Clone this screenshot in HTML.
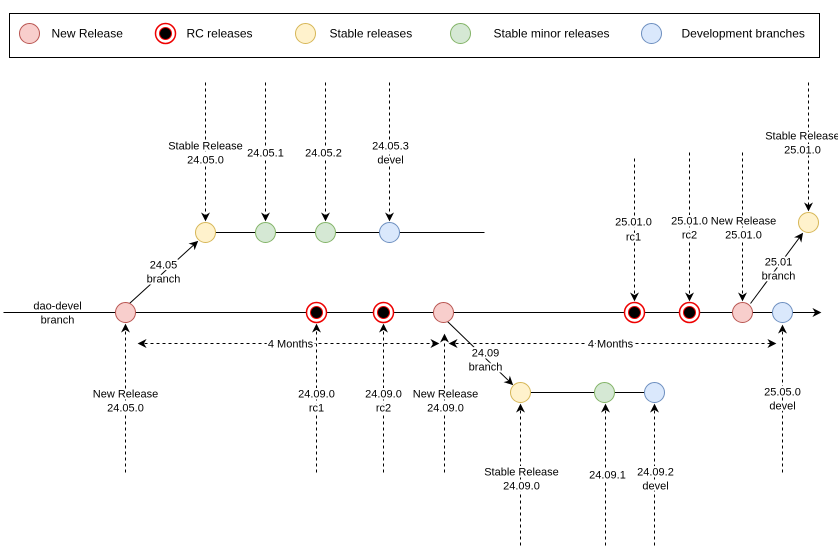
<!DOCTYPE html>
<html><head><meta charset="utf-8"><style>
html,body{margin:0;padding:0;background:#fff;}
svg{display:block;}
text{font-family:"Liberation Sans",Arial,sans-serif;font-size:11px;fill:#000;text-anchor:middle;}
.lg{font-size:12px;text-anchor:start;}
.bg{paint-order:stroke;stroke:#fff;stroke-width:4px;stroke-linejoin:round;}
.d{stroke:#000;stroke-width:1;stroke-dasharray:3,3;fill:none;}
.s{stroke:#000;stroke-width:1;fill:none;}
.nr{fill:#f8cecc;stroke:#b85450;}
.st{fill:#fff2cc;stroke:#d6b656;}
.mi{fill:#d5e8d4;stroke:#82b366;}
.dv{fill:#dae8fc;stroke:#6c8ebf;}
</style></head><body>
<svg width="838" height="548" viewBox="0 0 838 548" xmlns="http://www.w3.org/2000/svg">
<defs>
<marker id="a" viewBox="0 0 10 10" refX="9" refY="5" markerWidth="9" markerHeight="9" markerUnits="userSpaceOnUse" orient="auto-start-reverse">
<path d="M0,0 L10,5 L0,10 L3,5 z" fill="#000"/></marker>
</defs>
<g transform="translate(0.5,0.5)">
<!-- legend -->
<rect x="9" y="13" width="810" height="44" fill="#fff" stroke="#000" stroke-width="1"/>
<circle cx="29" cy="33" r="10" class="nr"/><text class="lg" x="51" y="37">New Release</text>
<circle cx="165" cy="33" r="10" fill="#fff" stroke="#e00" stroke-width="1.5"/><circle cx="165" cy="33" r="6" fill="#000" stroke="#e00" stroke-width="1"/>
<text class="lg" x="186" y="37">RC releases</text>
<circle cx="305" cy="33" r="10" class="st"/><text class="lg" x="329" y="37">Stable releases</text>
<circle cx="460" cy="33" r="10" class="mi"/><text class="lg" x="493" y="37">Stable minor releases</text>
<circle cx="651" cy="33" r="10" class="dv"/><text class="lg" x="681" y="37">Development branches</text>

<!-- main line -->
<line x1="3" y1="312" x2="820" y2="312" class="s" marker-end="url(#a)"/>
<text class="bg" x="57" y="309">dao-devel</text><text class="bg" x="57" y="323">branch</text>

<!-- top branch -->
<line x1="205" y1="232" x2="484" y2="232" class="s"/>
<line x1="205" y1="82" x2="205" y2="220" class="d" marker-end="url(#a)"/>
<line x1="265" y1="82" x2="265" y2="220" class="d" marker-end="url(#a)"/>
<line x1="325" y1="82" x2="325" y2="220" class="d" marker-end="url(#a)"/>
<line x1="389" y1="82" x2="389" y2="220" class="d" marker-end="url(#a)"/>
<text class="bg" x="205" y="149">Stable Release</text><text class="bg" x="205" y="163">24.05.0</text>
<text class="bg" x="265" y="156">24.05.1</text>
<text class="bg" x="323" y="156">24.05.2</text>
<text class="bg" x="390" y="149">24.05.3</text><text class="bg" x="390" y="163">devel</text>
<line x1="129" y1="303" x2="197" y2="241" class="s" marker-end="url(#a)"/>
<text class="bg" x="163" y="268">24.05</text><text class="bg" x="163" y="282">branch</text>
<circle cx="205" cy="232" r="10" class="st"/>
<circle cx="265" cy="232" r="10" class="mi"/>
<circle cx="325" cy="232" r="10" class="mi"/>
<circle cx="389" cy="232" r="10" class="dv"/>

<!-- bottom arrows up -->
<line x1="125" y1="472" x2="125" y2="324" class="d" marker-end="url(#a)"/>
<line x1="316" y1="472" x2="316" y2="324" class="d" marker-end="url(#a)"/>
<line x1="383" y1="472" x2="383" y2="324" class="d" marker-end="url(#a)"/>
<line x1="444" y1="472" x2="444" y2="334" class="d" marker-end="url(#a)"/>
<line x1="782" y1="472" x2="782" y2="325" class="d" marker-end="url(#a)"/>
<line x1="138" y1="343" x2="438" y2="343" class="d" marker-start="url(#a)" marker-end="url(#a)"/>
<line x1="449" y1="343" x2="775" y2="343" class="d" marker-start="url(#a)" marker-end="url(#a)"/>
<text class="bg" x="290" y="347">4 Months</text>
<text class="bg" x="610" y="347">4 Months</text>
<text class="bg" x="125" y="397">New Release</text><text class="bg" x="125" y="411">24.05.0</text>
<text class="bg" x="316" y="397">24.09.0</text><text class="bg" x="316" y="411">rc1</text>
<text class="bg" x="383" y="397">24.09.0</text><text class="bg" x="383" y="411">rc2</text>
<text class="bg" x="445" y="397">New Release</text><text class="bg" x="445" y="411">24.09.0</text>
<text class="bg" x="782" y="395">25.05.0</text><text class="bg" x="782" y="409">devel</text>

<!-- lower branch -->
<line x1="520" y1="392" x2="654" y2="392" class="s"/>
<line x1="447" y1="321" x2="512" y2="384" class="s" marker-end="url(#a)"/>
<text class="bg" x="485" y="356">24.09</text><text class="bg" x="485" y="370">branch</text>
<line x1="520" y1="545" x2="520" y2="404" class="d" marker-end="url(#a)"/>
<line x1="605" y1="545" x2="605" y2="404" class="d" marker-end="url(#a)"/>
<line x1="654" y1="545" x2="654" y2="404" class="d" marker-end="url(#a)"/>
<text class="bg" x="521" y="475">Stable Release</text><text class="bg" x="521" y="489">24.09.0</text>
<text class="bg" x="607" y="478">24.09.1</text>
<text class="bg" x="655" y="475">24.09.2</text><text class="bg" x="655" y="489">devel</text>
<circle cx="520" cy="392" r="10" class="st"/>
<circle cx="604" cy="392" r="10" class="mi"/>
<circle cx="654" cy="392" r="10" class="dv"/>

<!-- right top -->
<line x1="634" y1="158" x2="634" y2="300" class="d" marker-end="url(#a)"/>
<line x1="689" y1="152" x2="689" y2="300" class="d" marker-end="url(#a)"/>
<line x1="742" y1="152" x2="742" y2="300" class="d" marker-end="url(#a)"/>
<line x1="808" y1="82" x2="808" y2="210" class="d" marker-end="url(#a)"/>
<text class="bg" x="633" y="225">25.01.0</text><text class="bg" x="633" y="240">rc1</text>
<text class="bg" x="689" y="224">25.01.0</text><text class="bg" x="689" y="238">rc2</text>
<text class="bg" x="743" y="224">New Release</text><text class="bg" x="743" y="238">25.01.0</text>
<text class="bg" x="802" y="139">Stable Release</text><text class="bg" x="802" y="153">25.01.0</text>
<line x1="750" y1="303" x2="802" y2="233" class="s" marker-end="url(#a)"/>
<text class="bg" x="778" y="265">25.01</text><text class="bg" x="778" y="279">branch</text>
<circle cx="808" cy="222" r="10" class="st"/>

<!-- main nodes -->
<circle cx="125" cy="312" r="10" class="nr"/>
<circle cx="316" cy="312" r="10" fill="#fff" stroke="#e00" stroke-width="1.5"/><circle cx="316" cy="312" r="6" fill="#000" stroke="#e00"/>
<circle cx="383" cy="312" r="10" fill="#fff" stroke="#e00" stroke-width="1.5"/><circle cx="383" cy="312" r="6" fill="#000" stroke="#e00"/>
<circle cx="443" cy="312" r="10" class="nr"/>
<circle cx="634" cy="312" r="10" fill="#fff" stroke="#e00" stroke-width="1.5"/><circle cx="634" cy="312" r="6" fill="#000" stroke="#e00"/>
<circle cx="689" cy="312" r="10" fill="#fff" stroke="#e00" stroke-width="1.5"/><circle cx="689" cy="312" r="6" fill="#000" stroke="#e00"/>
<circle cx="742" cy="312" r="10" class="nr"/>
<circle cx="782" cy="312" r="10" class="dv"/>
</g>
</svg>
</body></html>
